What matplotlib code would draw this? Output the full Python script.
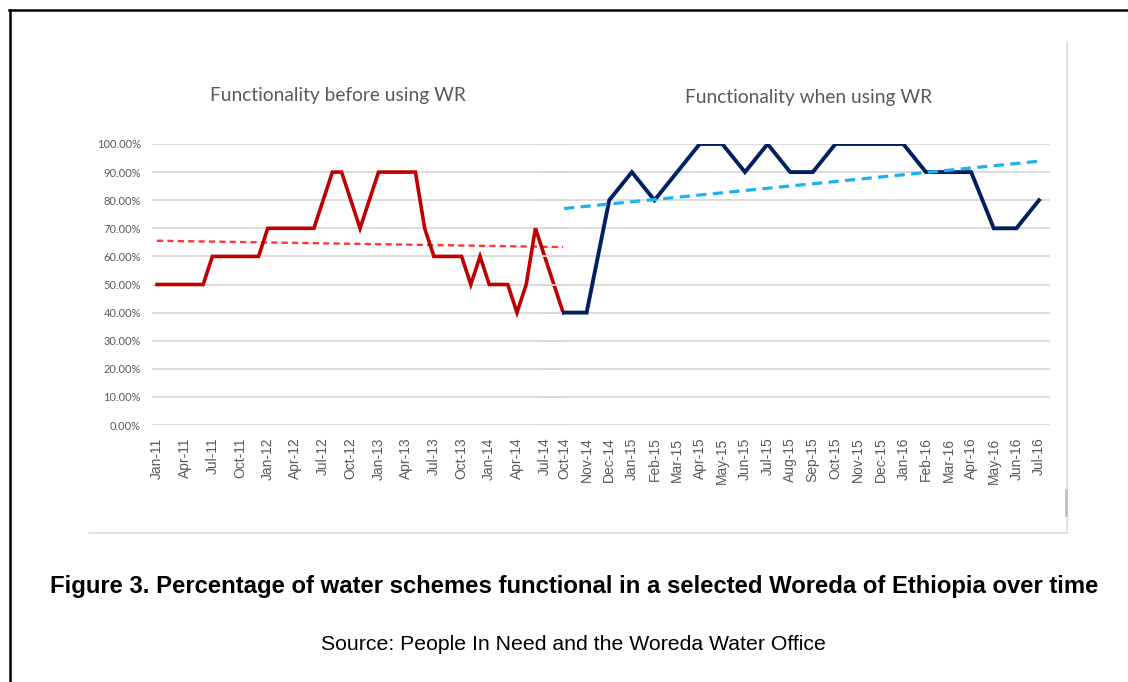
import matplotlib
matplotlib.use("Agg")
import matplotlib.pyplot as plt
import matplotlib.lines as mlines
import numpy as np
import pandas as pd

# 값 (그림에서 읽은 값, %)
# WR 사용 전: 2011-01 ~ 2014-09 월별
before_values = [50, 50, 50, 50, 50, 50,
                 60, 60, 60, 60, 60, 60,
                 70, 70, 70, 70, 70, 70,
                 80, 90, 90, 80, 70, 80,
                 90, 90, 90, 90, 90, 70,
                 60, 60, 60, 60, 50, 60,
                 50, 50, 50, 40, 50, 70,
                 60, 50, 40]
before_months = pd.date_range("2011-01-01", periods=len(before_values), freq="MS")
before_ticks = [d.strftime("%b-%y") for d in before_months[::3]]

# WR 사용 후: Oct-14 ~ Jul-16
after_labels = ["Oct-14", "Nov-14", "Dec-14", "Jan-15", "Feb-15", "Mar-15", "Apr-15",
                "May-15", "Jun-15", "Jul-15", "Aug-15", "Sep-15", "Oct-15", "Nov-15",
                "Dec-15", "Jan-16", "Feb-16", "Mar-16", "Apr-16", "May-16", "Jun-16",
                "Jul-16"]
after_values = [40, 40, 80, 90, 80, 90, 100, 100, 90, 100, 90, 90, 100, 100,
                100, 100, 90, 90, 90, 70, 70, 80]

title_before = "Functionality before using WR"
title_after = "Functionality when using WR"
caption = "Figure 3. Percentage of water schemes functional in a selected Woreda of Ethiopia over time"
source = "Source: People In Need and the Woreda Water Office"

W, H = 1128, 682
GREY = "#595959"
GRID = "#D9D9D9"


def fx(px):
    return px / W


def fy(py):
    return 1 - py / H


fig = plt.figure(figsize=(W / 100, H / 100), dpi=100)
fig.patch.set_facecolor("white")

# 왼쪽 차트 (월 단위 축)
x_before = np.arange(len(before_values))
ax1 = fig.add_axes([fx(152), fy(425), (565 - 152) / W, (425 - 144) / H])
ax1.set_facecolor("none")
ax1.set_xlim(-5 / 9.23, (565 - 157) / 9.23)
ax1.set_ylim(0, 100)
ax1.plot(x_before, before_values, color="#C00000", lw=2.6, solid_joinstyle="miter", zorder=3)
k, b = np.polyfit(x_before, before_values, 1)
ax1.plot(x_before[[0, -1]], k * x_before[[0, -1]] + b, color="#FF3535", lw=1.7,
         dashes=(2.6, 1.8), zorder=2)
ax1.set_yticks(range(0, 101, 10))
ax1.set_yticklabels([f"{v:.2f}%" for v in range(0, 101, 10)], fontfamily="Lato",
                    fontsize=8, color=GREY)
ax1.set_xticks(x_before[::3])
ax1.set_xticklabels(before_ticks, rotation=90, fontfamily="Liberation Sans",
                    fontsize=10, color=GREY)

# 오른쪽 차트 (범주 축)
x_after = np.arange(len(after_values))
ax2 = fig.add_axes([fx(540), fy(425), (1050 - 540) / W, (425 - 144) / H])
ax2.set_facecolor("none")
ax2.set_xlim((540 - 564) / 22.62, (1050 - 564) / 22.62)
ax2.set_ylim(0, 100)
ax2.plot(x_after, after_values, color="#002060", lw=2.8, solid_joinstyle="miter", zorder=3)
k2, b2 = np.polyfit(x_after, after_values, 1)
ax2.plot(x_after[[0, -1]], k2 * x_after[[0, -1]] + b2, color="#1CB2EE", lw=2.3,
         dashes=(3.2, 2), zorder=4)
ax2.set_yticks(range(0, 101, 10))
ax2.tick_params(axis="y", labelleft=False)
ax2.set_xticks(x_after)
ax2.set_xticklabels(after_labels, rotation=90, fontfamily="Liberation Sans",
                    fontsize=10, color=GREY)

for ax in (ax1, ax2):
    ax.grid(axis="y", color=GRID, lw=1.3, zorder=0)
    ax.set_axisbelow(True)
    ax.tick_params(length=0)
    ax.tick_params(axis="x", pad=9)
    ax.tick_params(axis="y", pad=8)
    for s in ax.spines.values():
        s.set_visible(False)

# 제목
fig.text(fx(338), fy(95), title_before, ha="center", va="center", fontfamily="Lato",
         fontsize=13.8, color=GREY)
fig.text(fx(809), fy(98), title_after, ha="center", va="center", fontfamily="Lato",
         fontsize=13.8, color=GREY)

# 캡션
fig.text(fx(574), fy(587), caption, ha="center", va="center",
         fontfamily="Liberation Sans", fontweight="bold", fontsize=17.2, color="black")
fig.text(fx(573), fy(644), source, ha="center", va="center",
         fontfamily="Liberation Sans", fontsize=15.3, color="black")

# 테두리
tf = fig.transFigure
fig.add_artist(mlines.Line2D([fx(9), 1], [fy(10), fy(10)], color="black", lw=1.8, transform=tf))
fig.add_artist(mlines.Line2D([fx(10), fx(10)], [0, fy(10)], color="black", lw=1.8, transform=tf))
fig.add_artist(mlines.Line2D([fx(1067), fx(1067)], [fy(42), fy(533)], color=GRID, lw=1.1, transform=tf))
fig.add_artist(mlines.Line2D([fx(89), fx(1067)], [fy(533), fy(533)], color=GRID, lw=1.1, transform=tf))
fig.add_artist(mlines.Line2D([fx(1066), fx(1066)], [fy(490), fy(515)], color="#BFBFBF", lw=2, transform=tf))

fig.savefig("out.png", dpi=100, facecolor="white")
